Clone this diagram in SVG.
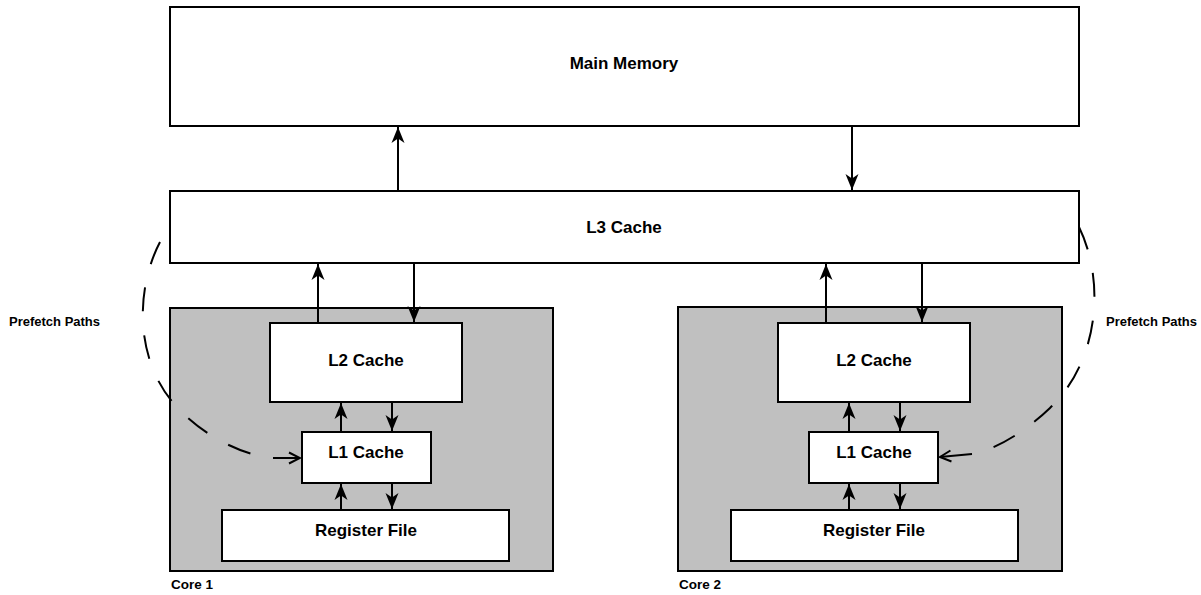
<svg xmlns="http://www.w3.org/2000/svg" width="1201" height="595" viewBox="0 0 1201 595">
<defs>
<style>
.box{fill:#ffffff;stroke:#000;stroke-width:2}
.core{fill:#c0c0c0;stroke:#000;stroke-width:2}
.lbl{font-family:"Liberation Sans",Arial,sans-serif;font-weight:bold;font-size:17px;fill:#000;text-anchor:middle}
.sm{font-family:"Liberation Sans",Arial,sans-serif;font-weight:bold;font-size:13px;fill:#000}
.edge{fill:none;stroke:#000;stroke-width:2;marker-end:url(#ah)}
.dash{fill:none;stroke:#000;stroke-width:2;stroke-dasharray:24 24}
.open{fill:none;stroke:#000;stroke-width:2;marker-end:url(#oh)}
</style>
<marker id="ah" markerUnits="userSpaceOnUse" markerWidth="18" markerHeight="16" viewBox="-17 -8 18 16" refX="0" refY="0" orient="auto">
<path d="M0,0 L-16,-6.5 L-11.5,0 L-16,6.5 Z" fill="#000"/>
</marker>
<marker id="oh" markerUnits="userSpaceOnUse" markerWidth="16" markerHeight="16" viewBox="-14 -8 16 16" refX="0" refY="0" orient="auto">
<path d="M-11,-5.5 L0,0 L-11,5.5" fill="none" stroke="#000" stroke-width="2"/>
</marker>
</defs>
<rect width="1201" height="595" fill="#ffffff"/>

<g id="main-memory">
<rect class="box" x="170" y="7" width="909" height="119"/>
<text class="lbl" x="624" y="69">Main Memory</text>
</g>
<g id="l3-cache">
<rect class="box" x="170" y="191" width="909" height="72"/>
<text class="lbl" x="624" y="233">L3 Cache</text>
</g>

<g id="core1">
<rect class="core" x="170" y="308" width="383" height="263"/>
<text class="sm" x="171" y="589" style="font-size:13.5px">Core 1</text>
</g>
<g id="core1-l2">
<rect class="box" x="270" y="323" width="192" height="79"/>
<text class="lbl" x="366" y="366">L2 Cache</text>
</g>
<g id="core1-l1">
<rect class="box" x="302" y="432" width="129" height="51"/>
<text class="lbl" x="366" y="458">L1 Cache</text>
</g>
<g id="core1-rf">
<rect class="box" x="222" y="510" width="287" height="51"/>
<text class="lbl" x="366" y="536">Register File</text>
</g>

<g id="core2">
<rect class="core" x="678" y="307" width="384" height="264"/>
<text class="sm" x="679" y="589" style="font-size:13.5px">Core 2</text>
</g>
<g id="core2-l2">
<rect class="box" x="778" y="323" width="192" height="79"/>
<text class="lbl" x="874" y="366">L2 Cache</text>
</g>
<g id="core2-l1">
<rect class="box" x="809" y="432" width="129" height="51"/>
<text class="lbl" x="874" y="458">L1 Cache</text>
</g>
<g id="core2-rf">
<rect class="box" x="731" y="510" width="287" height="51"/>
<text class="lbl" x="874" y="536">Register File</text>
</g>

<g id="prefetch-labels">
<text class="sm" x="9" y="326">Prefetch Paths</text>
<text class="sm" x="1106" y="326">Prefetch Paths</text>
</g>

<g id="connectors">
<line class="edge" x1="398" y1="191" x2="398" y2="127"/>
<line class="edge" x1="852" y1="126" x2="852" y2="190"/>

<line class="edge" x1="318" y1="323" x2="318" y2="264"/>
<line class="edge" x1="414" y1="263" x2="414" y2="322"/>
<line class="edge" x1="341" y1="432" x2="341" y2="403"/>
<line class="edge" x1="392" y1="402" x2="392" y2="431"/>
<line class="edge" x1="341" y1="510" x2="341" y2="484"/>
<line class="edge" x1="392" y1="483" x2="392" y2="509"/>

<line class="edge" x1="826" y1="323" x2="826" y2="264"/>
<line class="edge" x1="922" y1="263" x2="922" y2="322"/>
<line class="edge" x1="849" y1="432" x2="849" y2="403"/>
<line class="edge" x1="900" y1="402" x2="900" y2="431"/>
<line class="edge" x1="849" y1="510" x2="849" y2="484"/>
<line class="edge" x1="900" y1="483" x2="900" y2="509"/>

<path class="dash" d="M160,242 C135,290 135,360 175,405 C205,438 245,456 274,458"/>
<line class="open" x1="273" y1="458" x2="300" y2="458"/>
<path class="dash" d="M1079,227 C1105,280 1100,360 1050,408 C1025,432 995,450 972,454"/>
<line class="open" x1="972" y1="454" x2="940" y2="457"/>
</g>
</svg>
